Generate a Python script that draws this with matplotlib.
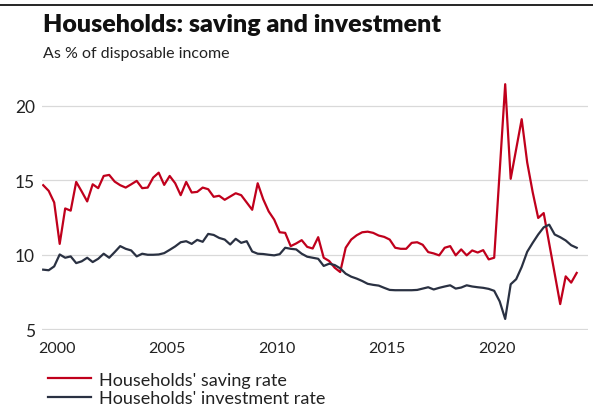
import matplotlib
matplotlib.use("Agg")
import matplotlib.pyplot as plt
from matplotlib.lines import Line2D
import numpy as np
import pandas as pd

# ---------------------------------------------------------------------------
# Data (quarterly, % of disposable income), first quarter 1999Q2
# ---------------------------------------------------------------------------

first_quarter = "1999Q2"

saving_rate = [
    14.67, 14.29, 13.51, 10.73, 13.11, 12.96, 14.89, 14.25, 13.58, 14.73,
    14.47, 15.29, 15.36, 14.91, 14.67, 14.51, 14.73, 14.96, 14.47, 14.51,
    15.18, 15.51, 14.69, 15.29, 14.80, 14.00, 14.89, 14.18, 14.22, 14.51,
    14.40, 13.89, 13.96, 13.69, 13.91, 14.13, 14.00, 13.51, 13.02, 14.80,
    13.73, 12.91, 12.36, 11.51, 11.47, 10.58, 10.76, 10.98, 10.53, 10.42,
    11.18, 9.80, 9.58, 9.13, 8.84, 10.47, 11.02, 11.31, 11.51, 11.55,
    11.47, 11.29, 11.20, 11.02, 10.47, 10.40, 10.40, 10.80, 10.84, 10.67,
    10.18, 10.09, 9.96, 10.47, 10.58, 9.96, 10.36, 9.96, 10.29, 10.15,
    10.31, 9.69, 9.80, 15.60, 21.45, 15.10, 17.10, 19.10, 16.20, 14.20,
    12.47, 12.80, 10.76, 8.73, 6.69, 8.55, 8.13, 8.78,
]

investment_rate = [
    9.00, 8.96, 9.22, 10.02, 9.80, 9.89, 9.44, 9.56, 9.80, 9.51,
    9.73, 10.07, 9.80, 10.18, 10.58, 10.40, 10.29, 9.89, 10.07, 10.00,
    10.00, 10.02, 10.11, 10.33, 10.56, 10.84, 10.91, 10.73, 11.00, 10.87,
    11.40, 11.33, 11.13, 11.02, 10.69, 11.07, 10.80, 10.91, 10.22, 10.07,
    10.05, 10.00, 9.96, 10.04, 10.47, 10.40, 10.36, 10.07, 9.87, 9.80,
    9.73, 9.25, 9.40, 9.31, 9.09, 8.73, 8.53, 8.40, 8.24, 8.05,
    7.98, 7.93, 7.78, 7.64, 7.62, 7.62, 7.62, 7.62, 7.64, 7.73,
    7.82, 7.67, 7.78, 7.87, 7.95, 7.73, 7.80, 7.95, 7.87, 7.82,
    7.78, 7.71, 7.58, 6.87, 5.69, 8.02, 8.36, 9.18, 10.20, 10.80,
    11.36, 11.84, 12.02, 11.36, 11.18, 10.96, 10.64, 10.47,
]

series_labels = ["Households' saving rate", "Households' investment rate"]
year_ticks = [2000, 2005, 2010, 2015, 2020]
value_ticks = [5, 10, 15, 20]

TITLE = "Households: saving and investment"
SUBTITLE = "As % of disposable income"

RED = "#c0001c"
NAVY = "#2a3142"
GRID = "#d9d9d9"
FONT = "Lato"

# ---------------------------------------------------------------------------
# Plot
# ---------------------------------------------------------------------------

quarters = pd.period_range(first_quarter, periods=len(saving_rate), freq="Q")
x = quarters.year + (quarters.quarter - 1) / 4 + 0.125  # mid-quarter

plt.rcParams["font.family"] = [FONT, "DejaVu Sans"]

fig = plt.figure(figsize=(5.93, 4.10), dpi=100)
ax = fig.add_axes([0.0708, 0.1927, 0.9208, 0.6195])

ax.plot(x, saving_rate, color=RED, lw=1.6, label=series_labels[0], zorder=3)
ax.plot(x, investment_rate, color=NAVY, lw=1.6, label=series_labels[1], zorder=3)

ax.set_xlim(1999.32, 2024.14)
ax.set_ylim(4.95, 22)
ax.set_xticks(year_ticks)
ax.set_yticks(value_ticks)
ax.grid(axis="y", color=GRID, lw=0.9)
ax.set_axisbelow(True)
for s in ax.spines.values():
    s.set_visible(False)
ax.tick_params(axis="both", length=0, colors="#222222")
ax.tick_params(axis="x", labelsize=11.5, pad=8)
ax.tick_params(axis="y", labelsize=12.5, pad=5)

# header
fig.add_artist(Line2D([0, 1], [0.985, 0.985], color="black", lw=1.2))
fig.text(0.072, 0.922, TITLE, fontsize=18, fontweight="heavy", va="baseline",
         color="#111111")
fig.text(0.072, 0.858, SUBTITLE, fontsize=11.5, va="baseline", color="#222222")

fig.legend(loc="upper left", bbox_to_anchor=(0.081, 0.091), frameon=False,
           fontsize=13, handlelength=2.4, handletextpad=0.45,
           labelspacing=0.15, borderpad=0, borderaxespad=0,
           labelcolor="#222222")

fig.savefig("out.png", dpi=100)
